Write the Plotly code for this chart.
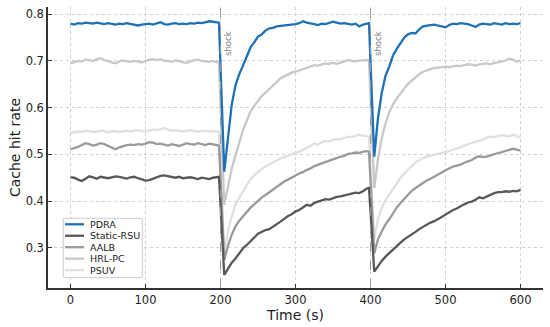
import plotly.graph_objects as go

# time stamps (s)
time_s = (list(range(0, 200, 5)) + [198] + list(range(205, 400, 5)) + [398]
          + list(range(405, 601, 5)))

pdra = [0.780, 0.778, 0.781, 0.780, 0.782, 0.781, 0.780, 0.782, 0.781, 0.779,
        0.781, 0.780, 0.778, 0.780, 0.779, 0.781, 0.779, 0.777, 0.776, 0.778,
        0.779, 0.780, 0.778, 0.781, 0.783, 0.779, 0.778, 0.780, 0.781, 0.779,
        0.780, 0.779, 0.781, 0.780, 0.782, 0.781, 0.783, 0.785, 0.784, 0.782,
        0.782,
        0.463, 0.540, 0.607, 0.648, 0.672, 0.690, 0.708, 0.729, 0.740, 0.752,
        0.757, 0.765, 0.770, 0.771, 0.774, 0.775, 0.775, 0.777, 0.778, 0.779,
        0.781, 0.785, 0.782, 0.781, 0.779, 0.777, 0.780, 0.779, 0.781, 0.784,
        0.782, 0.780, 0.781, 0.779, 0.778, 0.780, 0.774, 0.778, 0.780,
        0.781,
        0.495, 0.578, 0.632, 0.668, 0.688, 0.712, 0.726, 0.739, 0.750, 0.757,
        0.760, 0.759, 0.768, 0.774, 0.776, 0.777, 0.778, 0.776, 0.775, 0.772,
        0.777, 0.780, 0.779, 0.781, 0.780, 0.779, 0.776, 0.773, 0.778, 0.780,
        0.779, 0.778, 0.781, 0.780, 0.778, 0.781, 0.779, 0.780, 0.779, 0.781]

static_rsu = [0.451, 0.450, 0.446, 0.443, 0.448, 0.453, 0.451, 0.448, 0.452, 0.450,
              0.449, 0.451, 0.453, 0.452, 0.450, 0.448, 0.451, 0.452, 0.449, 0.446,
              0.444, 0.445, 0.448, 0.451, 0.454, 0.455, 0.453, 0.452, 0.450, 0.452,
              0.449, 0.450, 0.451, 0.449, 0.447, 0.450, 0.449, 0.447, 0.450, 0.451,
              0.452,
              0.242, 0.254, 0.268, 0.277, 0.287, 0.299, 0.306, 0.315, 0.322, 0.330,
              0.334, 0.338, 0.340, 0.345, 0.351, 0.356, 0.362, 0.368, 0.372, 0.378,
              0.381, 0.387, 0.392, 0.390, 0.396, 0.399, 0.401, 0.404, 0.403, 0.406,
              0.409, 0.410, 0.412, 0.414, 0.416, 0.418, 0.417, 0.421, 0.427,
              0.428,
              0.249, 0.262, 0.272, 0.281, 0.289, 0.297, 0.303, 0.311, 0.318, 0.323,
              0.329, 0.334, 0.340, 0.345, 0.350, 0.354, 0.357, 0.361, 0.366, 0.371,
              0.376, 0.381, 0.384, 0.389, 0.393, 0.397, 0.399, 0.403, 0.408, 0.406,
              0.410, 0.414, 0.417, 0.419, 0.419, 0.421, 0.420, 0.422, 0.421, 0.424]

aalb = [0.511, 0.513, 0.516, 0.520, 0.524, 0.522, 0.519, 0.521, 0.524, 0.522,
        0.518, 0.514, 0.511, 0.515, 0.518, 0.520, 0.521, 0.520, 0.522, 0.521,
        0.523, 0.526, 0.525, 0.522, 0.523, 0.521, 0.519, 0.522, 0.520, 0.518,
        0.521, 0.524, 0.522, 0.521, 0.524, 0.522, 0.520, 0.523, 0.521, 0.520,
        0.519,
        0.274, 0.305, 0.328, 0.346, 0.358, 0.368, 0.377, 0.386, 0.393, 0.401,
        0.408, 0.413, 0.419, 0.425, 0.432, 0.438, 0.442, 0.446, 0.451, 0.455,
        0.459, 0.462, 0.467, 0.470, 0.475, 0.478, 0.481, 0.484, 0.487, 0.490,
        0.492, 0.495, 0.497, 0.501, 0.502, 0.504, 0.503, 0.506, 0.507,
        0.506,
        0.288, 0.318, 0.335, 0.350, 0.361, 0.375, 0.386, 0.396, 0.405, 0.414,
        0.422, 0.428, 0.434, 0.440, 0.444, 0.448, 0.452, 0.456, 0.461, 0.466,
        0.470, 0.474, 0.476, 0.478, 0.482, 0.485, 0.488, 0.493, 0.496, 0.494,
        0.495, 0.498, 0.501, 0.503, 0.505, 0.507, 0.510, 0.512, 0.510, 0.508]

hrl_pc = [0.695, 0.698, 0.700, 0.699, 0.703, 0.702, 0.700, 0.704, 0.706, 0.702,
          0.699, 0.697, 0.695, 0.699, 0.701, 0.700, 0.698, 0.700, 0.699, 0.697,
          0.700, 0.703, 0.704, 0.702, 0.704, 0.701, 0.700, 0.698, 0.701, 0.700,
          0.697, 0.696, 0.699, 0.702, 0.703, 0.700, 0.699, 0.698, 0.700, 0.697,
          0.696,
          0.392, 0.430, 0.470, 0.498, 0.528, 0.552, 0.572, 0.592, 0.604, 0.615,
          0.625, 0.632, 0.640, 0.648, 0.655, 0.663, 0.667, 0.671, 0.675, 0.677,
          0.680, 0.683, 0.686, 0.688, 0.691, 0.690, 0.693, 0.695, 0.694, 0.696,
          0.694, 0.697, 0.699, 0.702, 0.700, 0.699, 0.701, 0.702, 0.703,
          0.702,
          0.428, 0.490, 0.535, 0.566, 0.590, 0.607, 0.620, 0.631, 0.642, 0.651,
          0.658, 0.666, 0.672, 0.677, 0.680, 0.683, 0.685, 0.686, 0.687, 0.688,
          0.687, 0.689, 0.690, 0.689, 0.691, 0.693, 0.692, 0.690, 0.693, 0.694,
          0.695, 0.693, 0.696, 0.697, 0.699, 0.701, 0.705, 0.703, 0.699, 0.701]

psuv = [0.546, 0.547, 0.549, 0.548, 0.551, 0.550, 0.548, 0.549, 0.551, 0.550,
        0.547, 0.549, 0.550, 0.548, 0.550, 0.551, 0.549, 0.550, 0.552, 0.550,
        0.549, 0.551, 0.553, 0.552, 0.554, 0.556, 0.553, 0.551, 0.552, 0.550,
        0.549, 0.551, 0.552, 0.550, 0.549, 0.550, 0.551, 0.549, 0.550, 0.549,
        0.548,
        0.290, 0.335, 0.368, 0.392, 0.407, 0.421, 0.433, 0.447, 0.455, 0.463,
        0.469, 0.474, 0.479, 0.483, 0.487, 0.492, 0.494, 0.497, 0.500, 0.503,
        0.506, 0.509, 0.514, 0.519, 0.523, 0.521, 0.526, 0.529, 0.528, 0.531,
        0.533, 0.532, 0.535, 0.538, 0.537, 0.540, 0.542, 0.540, 0.539,
        0.538,
        0.318, 0.362, 0.385, 0.402, 0.414, 0.427, 0.438, 0.450, 0.459, 0.468,
        0.475, 0.483, 0.488, 0.492, 0.495, 0.497, 0.498, 0.501, 0.503, 0.505,
        0.507, 0.510, 0.512, 0.515, 0.519, 0.522, 0.524, 0.527, 0.529, 0.533,
        0.536, 0.538, 0.537, 0.539, 0.541, 0.540, 0.538, 0.542, 0.539, 0.536]

series_names = ["PDRA", "Static-RSU", "AALB", "HRL-PC", "PSUV"]
series_values = [pdra, static_rsu, aalb, hrl_pc, psuv]
series_colors = ["#1f71b6", "#585858", "#9a9a9a", "#c8c8c8", "#e0e0e0"]
shock_times = [200, 400]
x_ticks = [0, 100, 200, 300, 400, 500, 600]
y_ticks = [0.3, 0.4, 0.5, 0.6, 0.7, 0.8]

FONT = "DejaVu Sans"
W, H = 550, 327
ML, MR, MT, MB = 48, 7, 7, 39
PW, PH = W - ML - MR, H - MT - MB


def px_x(px):
    return (px - ML) / PW


def px_y(py):
    return (H - MB - py) / PH


fig = go.Figure()

# draw in reverse so PDRA is on top
for i in list(range(len(series_names)))[::-1]:
    fig.add_trace(go.Scatter(
        x=time_s, y=series_values[i], mode="lines", name=series_names[i],
        line=dict(color=series_colors[i], width=2.3), showlegend=False,
    ))

for t in shock_times:
    fig.add_shape(type="line", x0=t, x1=t, y0=0, y1=1, xref="x", yref="paper",
                  line=dict(color="#9a9a9a", width=1, dash="dash"), layer="above")
    fig.add_annotation(x=t, y=0.7375, xref="x", yref="y", text="shock",
                       textangle=-90, showarrow=False, xanchor="left",
                       xshift=1, font=dict(family=FONT, size=8.5, color="#808080"))

# legend box (drawn manually, matplotlib-style compact rows)
fig.add_shape(type="rect", xref="paper", yref="paper",
              x0=px_x(63.3), x1=px_x(142.3), y0=px_y(277.7), y1=px_y(218.3),
              line=dict(color="#cccccc", width=1),
              fillcolor="rgba(255,255,255,0.85)", layer="above")
row_y0, row_dy = 224.3, 11.45
for k, (name, col) in enumerate(zip(series_names, series_colors)):
    ry = row_y0 + k * row_dy
    fig.add_shape(type="line", xref="paper", yref="paper",
                  x0=px_x(65), x1=px_x(84), y0=px_y(ry), y1=px_y(ry),
                  line=dict(color=col, width=2.3), layer="above")
    fig.add_annotation(xref="paper", yref="paper", x=px_x(87.5), y=px_y(ry),
                       text=name, showarrow=False, xanchor="left",
                       yanchor="middle",
                       font=dict(family=FONT, size=9.5, color="#222222"))

fig.update_layout(
    width=W, height=H,
    margin=dict(l=ML, r=MR, t=MT, b=MB),
    plot_bgcolor="white", paper_bgcolor="white",
    font=dict(family=FONT, size=12, color="#222222"),
    showlegend=False,
    xaxis=dict(range=[-30, 630], tickvals=x_ticks, showgrid=True,
               gridcolor="#d0d0d0", griddash="dot", gridwidth=1,
               showline=True, linecolor="#333333", linewidth=1.5,
               ticks="inside", ticklen=4, tickcolor="#333333", zeroline=False,
               automargin=False,
               title=dict(text="Time (s)", font=dict(size=14), standoff=0),
               tickfont=dict(size=11.5)),
    yaxis=dict(range=[0.2139, 0.8156], tickvals=y_ticks, tickformat=".1f",
               showgrid=True, gridcolor="#d0d0d0", griddash="dot", gridwidth=1,
               showline=True, linecolor="#333333", linewidth=1.5,
               ticks="inside", ticklen=4, tickcolor="#333333", zeroline=False,
               automargin=False,
               title=dict(text="Cache hit rate", font=dict(size=14), standoff=2),
               tickfont=dict(size=11.5)),
)

fig.write_html("out.html",
               config={"displayModeBar": False},
               post_script="document.body.style.margin='0px';"
                           "document.body.style.overflow='hidden';")
